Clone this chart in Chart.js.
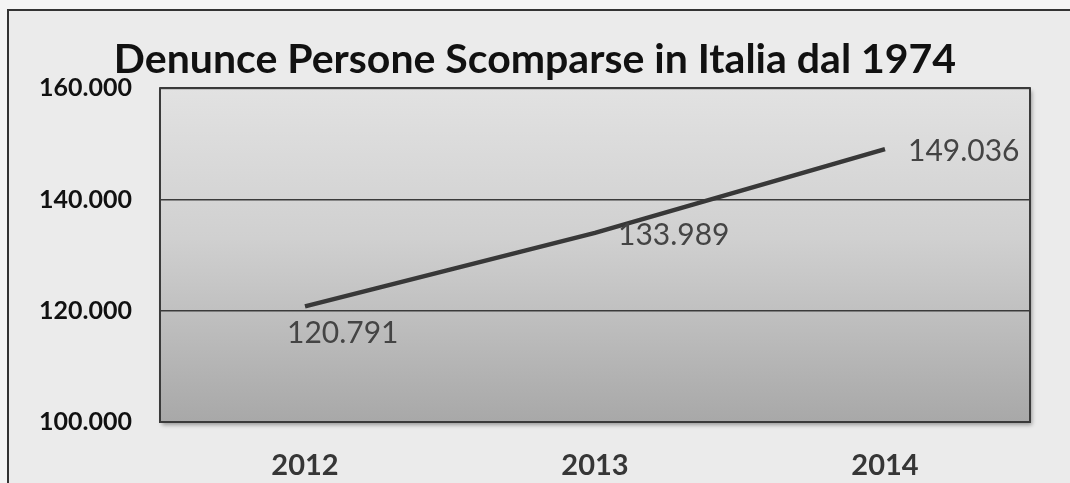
<!DOCTYPE html>
<html>
<head>
<meta charset="utf-8">
<script src="https://cdn.jsdelivr.net/npm/chart.js@4"></script>
<style>
  html, body { margin: 0; padding: 0; background: #f4f4f4; }
  #wrap { width: 1070px; height: 483px; }
</style>
</head>
<body>
<div id="wrap"><canvas id="chart" width="1070" height="483"></canvas></div>
<script>
/* Denunce persone scomparse */
const years = ['2012', '2013', '2014'];
const reports = [120791, 133989, 149036];
const yTicks = [100000, 120000, 140000, 160000];
// where each value label sits relative to its point
const labelSpots = ['below', 'right', 'right'];

const FONT = 'Lato, "Open Sans", sans-serif';

function fmt(n) {
  return String(n).replace(/\B(?=(\d{3})+(?!\d))/g, '.');
}

const frame = {
  id: 'frame',
  beforeDraw(chart) {
    const { ctx, chartArea: a } = chart;
    ctx.save();
    ctx.fillStyle = '#f4f4f4';
    ctx.fillRect(0, 0, chart.width, chart.height);
    ctx.fillStyle = '#ebebeb';
    ctx.fillRect(8, 10, chart.width, chart.height);
    ctx.strokeStyle = '#333';
    ctx.lineWidth = 2;
    ctx.strokeRect(8, 10, chart.width + 10, chart.height + 10);

    const g = ctx.createLinearGradient(0, a.top, 0, a.bottom);
    g.addColorStop(0, '#e2e2e2');
    g.addColorStop(0.45, '#d0d0d0');
    g.addColorStop(1, '#a8a8a8');
    ctx.shadowColor = 'rgba(0,0,0,0.35)';
    ctx.shadowBlur = 4;
    ctx.shadowOffsetX = 2;
    ctx.shadowOffsetY = 3;
    ctx.fillStyle = g;
    ctx.fillRect(a.left, a.top, a.width, a.height);
    ctx.restore();
  },
  beforeDatasetsDraw(chart) {
    const { ctx, chartArea: a } = chart;
    ctx.save();
    ctx.strokeStyle = '#3a3a3a';
    ctx.lineWidth = 2;
    ctx.strokeRect(a.left, a.top, a.width, a.height);
    ctx.restore();
  }
};

const valueLabels = {
  id: 'valueLabels',
  afterDatasetsDraw(chart) {
    const { ctx } = chart;
    const meta = chart.getDatasetMeta(0);
    ctx.save();
    ctx.font = '30px ' + FONT;
    ctx.fillStyle = '#444';
    ctx.textBaseline = 'middle';
    ctx.textAlign = 'left';
    meta.data.forEach((pt, i) => {
      const txt = fmt(reports[i]);
      if (labelSpots[i] === 'below') ctx.fillText(txt, pt.x - 18, pt.y + 27);
      else ctx.fillText(txt, pt.x + 23, pt.y + 2);
    });
    ctx.restore();
  }
};

new Chart(document.getElementById('chart'), {
  type: 'line',
  data: {
    labels: years,
    datasets: [{
      data: reports,
      borderColor: '#383838',
      borderWidth: 4.5,
      pointRadius: 0,
      tension: 0
    }]
  },
  options: {
    responsive: false,
    animation: false,
    layout: { padding: 0 },
    plugins: {
      legend: { display: false },
      tooltip: { enabled: false },
      title: {
        display: true,
        text: 'Denunce Persone Scomparse in Italia dal 1974',
        color: '#111',
        font: { family: FONT, size: 41, weight: 'bold', lineHeight: 1.2 },
        padding: { top: 35, bottom: 4 }
      }
    },
    scales: {
      x: {
        offset: true,
        grid: { display: false, drawTicks: false },
        border: { display: false },
        ticks: { color: '#363636', padding: 26, font: { family: FONT, size: 29, weight: 'bold' } },
        afterFit(s) { s.height = 61; }
      },
      y: {
        min: 100000,
        max: 160000,
        afterBuildTicks(s) { s.ticks = yTicks.map(v => ({ value: v })); },
        grid: { color: '#3a3a3a', lineWidth: 1.5, drawTicks: false },
        border: { display: false },
        ticks: {
          color: '#111',
          padding: 28,
          font: { family: FONT, size: 25, weight: 'bold' },
          callback: v => fmt(v)
        },
        afterFit(s) { s.width = 160; }
      },
      // empty right axis, only keeps the margin on the right
      yRight: {
        position: 'right',
        min: 100000,
        max: 160000,
        grid: { display: false, drawTicks: false },
        border: { display: false },
        ticks: { display: false },
        afterFit(s) { s.width = 40; }
      }
    }
  },
  plugins: [frame, valueLabels]
});
</script>
</body>
</html>
